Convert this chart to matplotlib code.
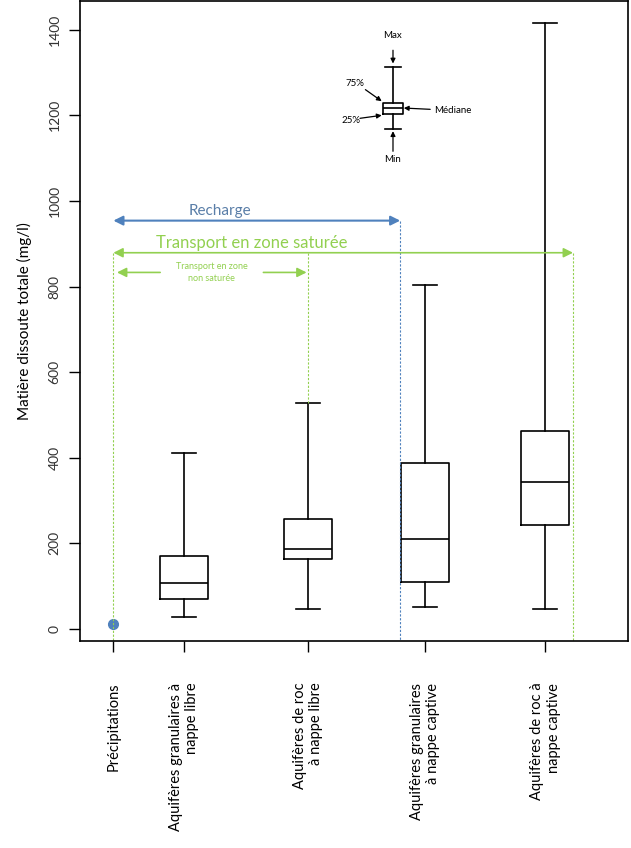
import matplotlib.pyplot as plt

plt.rcParams['font.family'] = ['Lato', 'DejaVu Sans']

# data (mg/l)
labels = ['Précipitations',
          'Aquifères granulaires à\nnappe libre',
          'Aquifères de roc\nà nappe libre',
          'Aquifères granulaires\nà nappe captive',
          'Aquifères de roc à\nnappe captive']
positions = [0.41, 1.0, 2.03, 3.01, 4.01]
precip_value = 12
box_min = [28, 47, 51, 47]
box_q1 = [70, 164, 110, 243]
box_med = [107, 187, 210, 344]
box_q3 = [171, 257, 388, 462]
box_max = [411, 528, 804, 1415]

# schematic legend box
legend_pos = 2.74
legend_stats = [1167, 1204, 1218, 1229, 1313]  # min, q1, med, q3, max

blue = '#4f81bd'
green = '#92d050'

fig = plt.figure(figsize=(6.31, 8.48), dpi=100)
ax = fig.add_axes([0.1268, 0.2441, 0.8684, 0.7547])

stats = []
for i in range(4):
    stats.append(dict(whislo=box_min[i], q1=box_q1[i], med=box_med[i],
                      q3=box_q3[i], whishi=box_max[i], fliers=[]))
line = dict(color='black', linewidth=1.2)
ax.bxp(stats, positions=positions[1:], widths=0.4, showfliers=False,
       boxprops=line, whiskerprops=line, capprops=line,
       medianprops=line, capwidths=0.2, manage_ticks=False)

ax.plot(positions[0], precip_value, 'o', color=blue, markersize=7)

# legend schematic
lmin, lq1, lmed, lq3, lmax = legend_stats
ax.bxp([dict(whislo=lmin, q1=lq1, med=lmed, q3=lq3, whishi=lmax, fliers=[])],
       positions=[legend_pos], widths=0.17, showfliers=False,
       boxprops=line, whiskerprops=line, capprops=line,
       medianprops=line, capwidths=0.13, manage_ticks=False)
sarrow = dict(arrowstyle='-|>', color='black', lw=0.9, mutation_scale=7,
              shrinkA=0, shrinkB=0)


def small_arrow(x0, y0, x1, y1):
    ax.annotate('', xy=(x1, y1), xytext=(x0, y0), arrowprops=sarrow)


ax.text(legend_pos, 1387, 'Max', ha='center', va='center', fontsize=7)
small_arrow(legend_pos, 1352, legend_pos, lmax + 8)
ax.text(legend_pos, 1096, 'Min', ha='center', va='center', fontsize=7)
small_arrow(legend_pos, 1116, legend_pos, lmin - 4)
ax.text(2.42, 1274, '75%', ha='center', va='center', fontsize=7)
small_arrow(2.51, 1260, 2.646, 1233)
ax.text(2.39, 1188, '25%', ha='center', va='center', fontsize=7)
small_arrow(2.465, 1193, 2.646, 1200)
ax.text(3.24, 1212, 'Médiane', ha='center', va='center', fontsize=7)
small_arrow(3.05, 1214, 2.83, 1217)

# process arrows
recharge_y, satur_y, nonsat_y = 954, 879, 833
recharge_end, satur_end = 2.80, 4.24
ax.annotate('', xy=(positions[0], recharge_y), xytext=(recharge_end, recharge_y),
            arrowprops=dict(arrowstyle='<|-|>', color=blue, lw=1.5,
                            mutation_scale=14, shrinkA=0, shrinkB=0))
ax.text(1.3, recharge_y + 5, 'Recharge', color='#5a7ea8', fontsize=11,
        ha='center', va='bottom')
ax.plot([recharge_end, recharge_end], [recharge_y, -28], color=blue,
        lw=0.8, ls=(0, (2, 1.5)))

ax.annotate('', xy=(positions[0], satur_y), xytext=(satur_end, satur_y),
            arrowprops=dict(arrowstyle='<|-|>', color=green, lw=1.2,
                            mutation_scale=14, shrinkA=0, shrinkB=0))
ax.text(1.56, satur_y + 5, 'Transport en zone saturée', color=green, fontsize=12,
        ha='center', va='bottom')
for xv, ybot in [(positions[0], -28), (satur_end, -28), (positions[2], box_max[1])]:
    ax.plot([xv, xv], [satur_y, ybot], color=green, lw=0.8, ls=(0, (2, 1.5)))

ax.annotate('', xy=(positions[0] + 0.03, nonsat_y), xytext=(0.8, nonsat_y),
            arrowprops=dict(arrowstyle='-|>', color=green, lw=1.2,
                            mutation_scale=14, shrinkA=0, shrinkB=0))
ax.annotate('', xy=(2.02, nonsat_y), xytext=(1.66, nonsat_y),
            arrowprops=dict(arrowstyle='-|>', color=green, lw=1.2,
                            mutation_scale=14, shrinkA=0, shrinkB=0))
ax.text(1.23, nonsat_y, 'Transport en zone\nnon saturée', color=green, fontsize=6.5,
        ha='center', va='center', linespacing=1.5)

ax.set_xlim(0.132, 4.698)
ax.set_ylim(-28, 1467)
ax.set_yticks(range(0, 1401, 200))
ax.set_yticklabels([str(v) for v in range(0, 1401, 200)], rotation=90,
                   va='center', fontsize=10, color='#333333')
ax.set_xticks(positions)
ax.set_xticklabels(labels, rotation=90, ha='center', va='top',
                   multialignment='right', fontsize=10.5)
ax.tick_params(axis='both', length=8, width=1, direction='out')
ax.tick_params(axis='y', pad=6)
ax.tick_params(axis='x', pad=22)
for s in ax.spines.values():
    s.set_linewidth(1.2)

ax.set_ylabel('Matière dissoute totale (mg/l)', fontsize=11, labelpad=12)

fig.savefig('out.png', dpi=100)
